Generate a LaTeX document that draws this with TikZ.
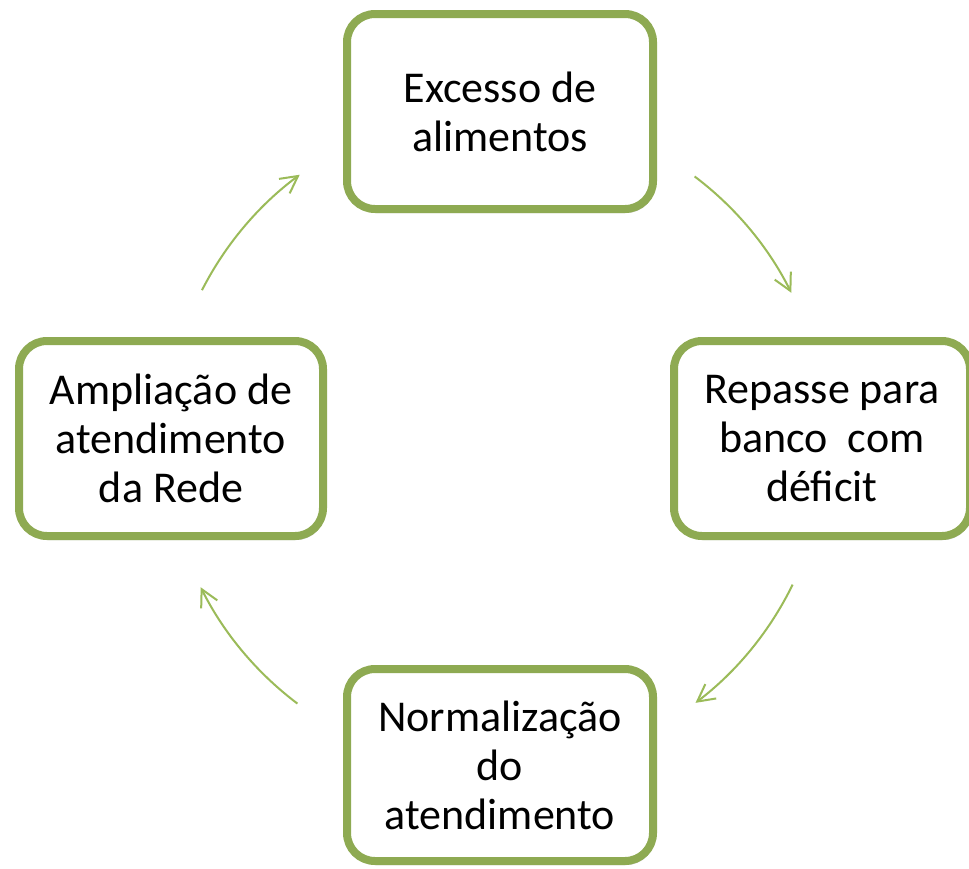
\documentclass[tikz,border=0pt]{standalone}
\usepackage{fontspec}
\setmainfont{Carlito}
\usetikzlibrary{arrows.meta,shadows}
\definecolor{boxgreen}{RGB}{142,170,82}
\definecolor{arrowgreen}{RGB}{155,187,89}
\begin{document}
\begin{tikzpicture}[x=1pt,y=-1pt,
  cyclebox/.style={draw=boxgreen, line width=8pt, fill=white, rounded corners=28pt,
    align=center, inner sep=0pt, font=\fontsize{44}{49}\selectfont,
    drop shadow={shadow xshift=1.5pt, shadow yshift=-4pt, opacity=0.25, fill=black!70}},
  cyclearrow/.style={draw=arrowgreen, line width=2pt,
    -{Straight Barb[length=17pt,width=18pt]}}]
\useasboundingbox (0,0) rectangle (969,868);
\fill[white] (0,0) rectangle (969,868);
\node[cyclebox, minimum width=306pt, minimum height=195pt] (top) at (500,111.5) {Excesso de\\alimentos};
\node[cyclebox, minimum width=296pt, minimum height=195pt] (right) at (822,438.5) {Repasse para\\banco\ \ com\\déficit};
\node[cyclebox, minimum width=306pt, minimum height=192pt] (bottom) at (500,765) {Normalização\\do\\atendimento};
\node[cyclebox, minimum width=304pt, minimum height=195pt] (left) at (171,438.5) {Ampliação de\\atendimento\\da Rede};
\coordinate (c) at (496,440);
\coordinate (a1) at ([shift={(c)}] -53:330);
\coordinate (a2) at ([shift={(c)}] 26:330);
\coordinate (a3) at ([shift={(c)}] 127:330);
\coordinate (a4) at ([shift={(c)}] 207:330);
\draw[cyclearrow] (a1) arc[start angle=-53, end angle=-26.5, radius=330];
\draw[cyclearrow] (a2) arc[start angle=26, end angle=52.8, radius=330];
\draw[cyclearrow] (a3) arc[start angle=127, end angle=153.5, radius=330];
\draw[cyclearrow] (a4) arc[start angle=207, end angle=233.5, radius=330];
\end{tikzpicture}
\end{document}
